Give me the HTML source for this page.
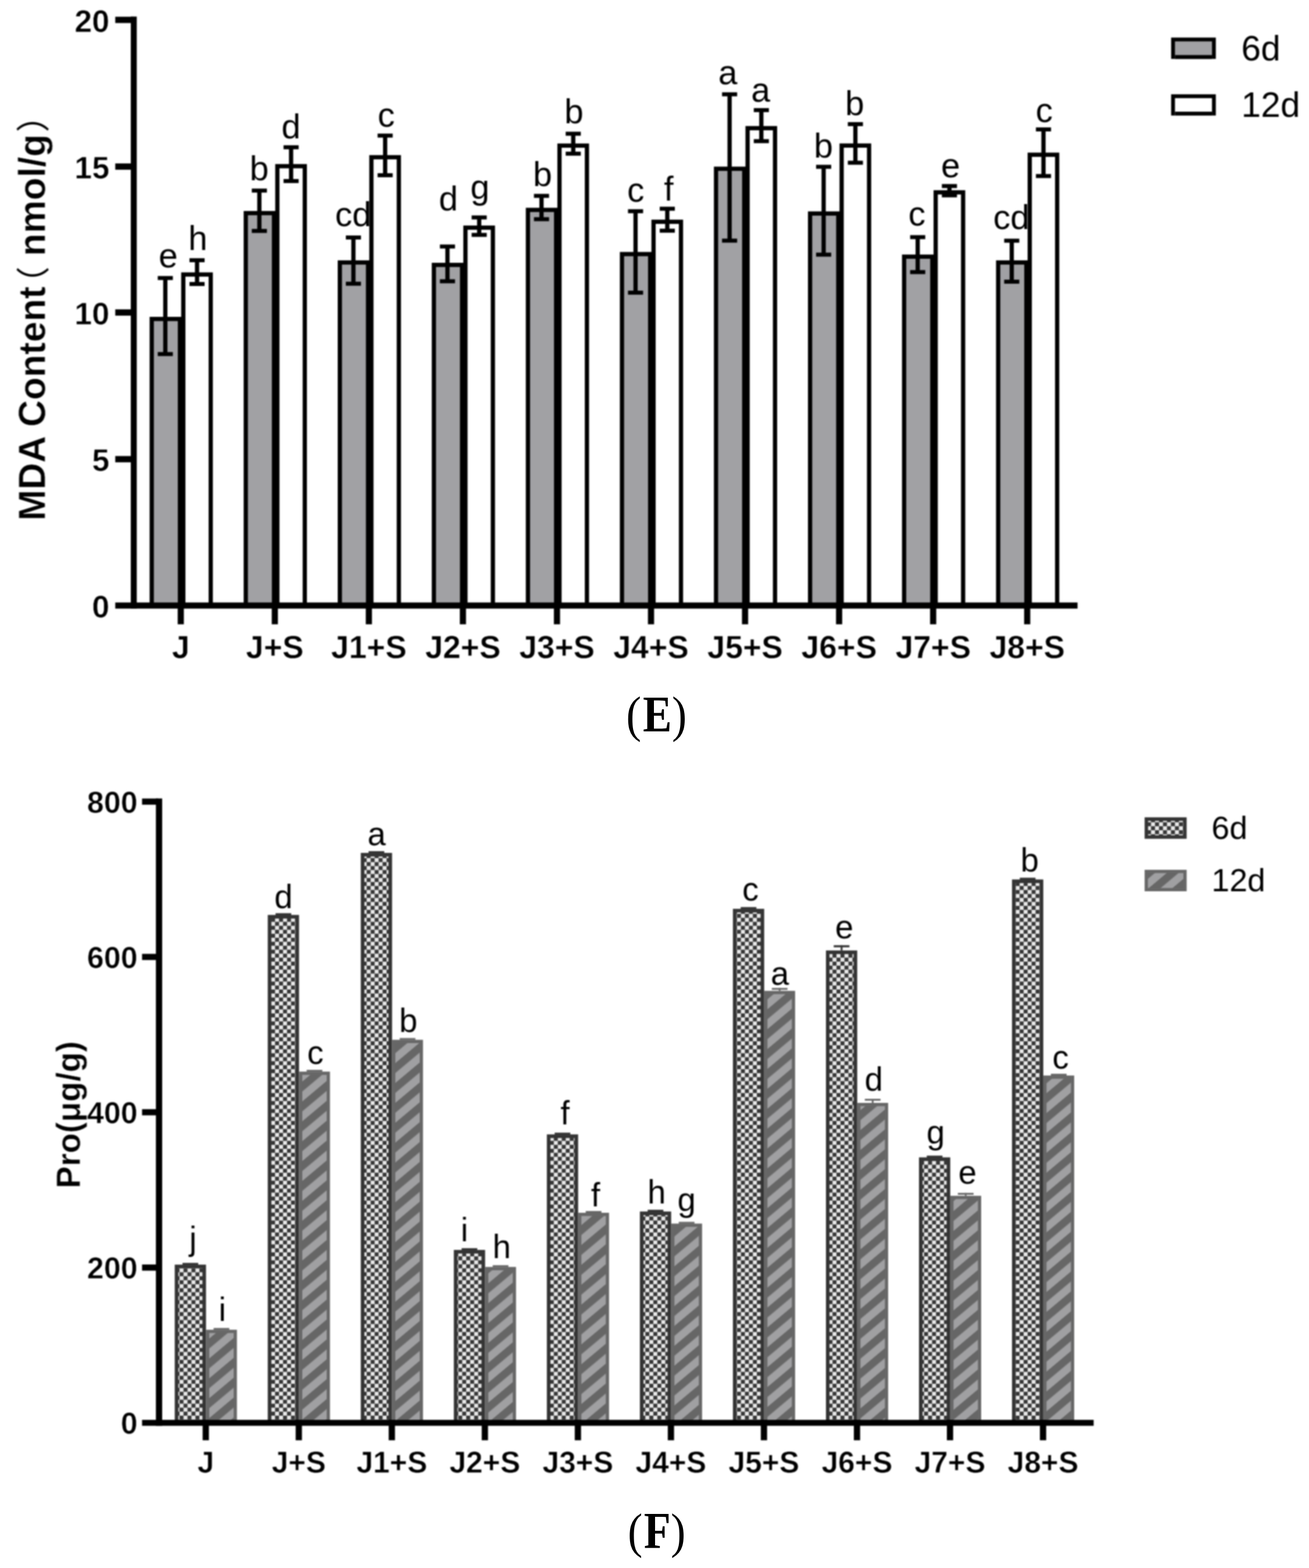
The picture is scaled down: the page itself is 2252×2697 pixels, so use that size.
<!DOCTYPE html>
<html lang="en"><head><meta charset="utf-8"><title>Figure E and F: MDA content and Pro</title>
<style>html,body{margin:0;padding:0;background:#fff;}body{width:2252px;height:2697px;}svg{display:block;}text{white-space:pre;}#chartE text[font-weight=bold],#chartF text[font-weight=bold]{stroke:#fff;stroke-width:0.6px;stroke-linejoin:round;}</style>
</head><body>
<svg width="2252" height="2697" viewBox="0 0 2252 2697">
<defs>
<pattern id="chk" patternUnits="userSpaceOnUse" width="13.7" height="13.7" x="0.6" y="3.2"><rect width="13.7" height="13.7" fill="#e9e9e9"/><rect x="0" y="0" width="6.85" height="6.85" fill="#363636"/><rect x="6.85" y="6.85" width="6.85" height="6.85" fill="#363636"/></pattern>
<pattern id="hat" patternUnits="userSpaceOnUse" width="40" height="26.199" patternTransform="rotate(-40) translate(0,4)"><rect width="40" height="26.199" fill="#a0a0a2"/><rect width="40" height="13.099" fill="#666666"/></pattern>
<filter id="soft" x="-2%" y="-2%" width="104%" height="104%" color-interpolation-filters="sRGB"><feGaussianBlur stdDeviation="0.85"/></filter>
</defs>
<rect width="2252" height="2697" fill="#fff"/>
<g filter="url(#soft)">
<g id="chartE">
<rect x="257.40" y="545.00" width="55.80" height="493.30" fill="#000"/>
<rect x="264.70" y="552.30" width="41.20" height="486.00" fill="#a1a1a4"/>
<rect x="419.20" y="362.90" width="55.80" height="675.40" fill="#000"/>
<rect x="426.50" y="370.20" width="41.20" height="668.10" fill="#a1a1a4"/>
<rect x="581.00" y="447.80" width="55.80" height="590.50" fill="#000"/>
<rect x="588.30" y="455.10" width="41.20" height="583.20" fill="#a1a1a4"/>
<rect x="742.80" y="452.00" width="55.80" height="586.30" fill="#000"/>
<rect x="750.10" y="459.30" width="41.20" height="579.00" fill="#a1a1a4"/>
<rect x="904.60" y="357.40" width="55.80" height="680.90" fill="#000"/>
<rect x="911.90" y="364.70" width="41.20" height="673.60" fill="#a1a1a4"/>
<rect x="1066.40" y="433.40" width="55.80" height="604.90" fill="#000"/>
<rect x="1073.70" y="440.70" width="41.20" height="597.60" fill="#a1a1a4"/>
<rect x="1228.20" y="286.60" width="55.80" height="751.70" fill="#000"/>
<rect x="1235.50" y="293.90" width="41.20" height="744.40" fill="#a1a1a4"/>
<rect x="1390.00" y="363.60" width="55.80" height="674.70" fill="#000"/>
<rect x="1397.30" y="370.90" width="41.20" height="667.40" fill="#a1a1a4"/>
<rect x="1551.80" y="437.80" width="55.80" height="600.50" fill="#000"/>
<rect x="1559.10" y="445.10" width="41.20" height="593.20" fill="#a1a1a4"/>
<rect x="1713.60" y="447.80" width="55.80" height="590.50" fill="#000"/>
<rect x="1720.90" y="455.10" width="41.20" height="583.20" fill="#a1a1a4"/>
<rect x="280.75" y="478.20" width="7.30" height="130.80" fill="#000"/>
<rect x="271.40" y="474.75" width="26.00" height="6.90" fill="#000"/>
<rect x="271.40" y="605.55" width="26.00" height="6.90" fill="#000"/>
<rect x="442.55" y="327.80" width="7.30" height="69.40" fill="#000"/>
<rect x="433.20" y="324.35" width="26.00" height="6.90" fill="#000"/>
<rect x="433.20" y="393.75" width="26.00" height="6.90" fill="#000"/>
<rect x="604.35" y="408.50" width="7.30" height="79.50" fill="#000"/>
<rect x="595.00" y="405.05" width="26.00" height="6.90" fill="#000"/>
<rect x="595.00" y="484.55" width="26.00" height="6.90" fill="#000"/>
<rect x="766.15" y="424.00" width="7.30" height="59.80" fill="#000"/>
<rect x="756.80" y="420.55" width="26.00" height="6.90" fill="#000"/>
<rect x="756.80" y="480.35" width="26.00" height="6.90" fill="#000"/>
<rect x="927.95" y="336.90" width="7.30" height="40.10" fill="#000"/>
<rect x="918.60" y="333.45" width="26.00" height="6.90" fill="#000"/>
<rect x="918.60" y="373.55" width="26.00" height="6.90" fill="#000"/>
<rect x="1089.75" y="363.30" width="7.30" height="140.10" fill="#000"/>
<rect x="1080.40" y="359.85" width="26.00" height="6.90" fill="#000"/>
<rect x="1080.40" y="499.95" width="26.00" height="6.90" fill="#000"/>
<rect x="1251.55" y="162.20" width="7.30" height="251.70" fill="#000"/>
<rect x="1242.20" y="158.75" width="26.00" height="6.90" fill="#000"/>
<rect x="1242.20" y="410.45" width="26.00" height="6.90" fill="#000"/>
<rect x="1413.35" y="286.90" width="7.30" height="151.10" fill="#000"/>
<rect x="1404.00" y="283.45" width="26.00" height="6.90" fill="#000"/>
<rect x="1404.00" y="434.55" width="26.00" height="6.90" fill="#000"/>
<rect x="1575.15" y="407.90" width="7.30" height="60.10" fill="#000"/>
<rect x="1565.80" y="404.45" width="26.00" height="6.90" fill="#000"/>
<rect x="1565.80" y="464.55" width="26.00" height="6.90" fill="#000"/>
<rect x="1736.95" y="414.00" width="7.30" height="70.50" fill="#000"/>
<rect x="1727.60" y="410.55" width="26.00" height="6.90" fill="#000"/>
<rect x="1727.60" y="481.05" width="26.00" height="6.90" fill="#000"/>
<text x="289.36" y="460.00" font-family='"Liberation Sans", sans-serif' font-size="59" font-weight="normal" text-anchor="middle" fill="#000">e</text>
<text x="445.92" y="310.10" font-family='"Liberation Sans", sans-serif' font-size="59" font-weight="normal" text-anchor="middle" fill="#000">b</text>
<text x="607.65" y="389.30" font-family='"Liberation Sans", sans-serif' font-size="59" font-weight="normal" text-anchor="middle" fill="#000">cd</text>
<text x="771.45" y="361.70" font-family='"Liberation Sans", sans-serif' font-size="59" font-weight="normal" text-anchor="middle" fill="#000">d</text>
<text x="933.32" y="319.50" font-family='"Liberation Sans", sans-serif' font-size="59" font-weight="normal" text-anchor="middle" fill="#000">b</text>
<text x="1093.73" y="346.50" font-family='"Liberation Sans", sans-serif' font-size="59" font-weight="normal" text-anchor="middle" fill="#000">c</text>
<text x="1252.16" y="144.60" font-family='"Liberation Sans", sans-serif' font-size="59" font-weight="normal" text-anchor="middle" fill="#000">a</text>
<text x="1416.62" y="271.00" font-family='"Liberation Sans", sans-serif' font-size="59" font-weight="normal" text-anchor="middle" fill="#000">b</text>
<text x="1577.43" y="387.90" font-family='"Liberation Sans", sans-serif' font-size="59" font-weight="normal" text-anchor="middle" fill="#000">c</text>
<text x="1739.85" y="393.60" font-family='"Liberation Sans", sans-serif' font-size="59" font-weight="normal" text-anchor="middle" fill="#000">cd</text>
<rect x="311.70" y="468.50" width="54.50" height="569.80" fill="#000"/>
<rect x="319.00" y="475.80" width="39.90" height="562.50" fill="#fff"/>
<rect x="473.50" y="282.20" width="54.50" height="756.10" fill="#000"/>
<rect x="480.80" y="289.50" width="39.90" height="748.80" fill="#fff"/>
<rect x="635.30" y="266.80" width="54.50" height="771.50" fill="#000"/>
<rect x="642.60" y="274.10" width="39.90" height="764.20" fill="#fff"/>
<rect x="797.10" y="387.90" width="54.50" height="650.40" fill="#000"/>
<rect x="804.40" y="395.20" width="39.90" height="643.10" fill="#fff"/>
<rect x="958.90" y="246.80" width="54.50" height="791.50" fill="#000"/>
<rect x="966.20" y="254.10" width="39.90" height="784.20" fill="#fff"/>
<rect x="1120.70" y="377.80" width="54.50" height="660.50" fill="#000"/>
<rect x="1128.00" y="385.10" width="39.90" height="653.20" fill="#fff"/>
<rect x="1282.50" y="216.80" width="54.50" height="821.50" fill="#000"/>
<rect x="1289.80" y="224.10" width="39.90" height="814.20" fill="#fff"/>
<rect x="1444.30" y="246.70" width="54.50" height="791.60" fill="#000"/>
<rect x="1451.60" y="254.00" width="39.90" height="784.30" fill="#fff"/>
<rect x="1606.10" y="327.20" width="54.50" height="711.10" fill="#000"/>
<rect x="1613.40" y="334.50" width="39.90" height="703.80" fill="#fff"/>
<rect x="1767.90" y="262.50" width="54.50" height="775.80" fill="#000"/>
<rect x="1775.20" y="269.80" width="39.90" height="768.50" fill="#fff"/>
<rect x="335.35" y="447.60" width="7.30" height="40.90" fill="#000"/>
<rect x="326.00" y="444.15" width="26.00" height="6.90" fill="#000"/>
<rect x="326.00" y="485.05" width="26.00" height="6.90" fill="#000"/>
<rect x="497.15" y="253.30" width="7.30" height="58.10" fill="#000"/>
<rect x="487.80" y="249.85" width="26.00" height="6.90" fill="#000"/>
<rect x="487.80" y="307.95" width="26.00" height="6.90" fill="#000"/>
<rect x="658.95" y="233.20" width="7.30" height="68.20" fill="#000"/>
<rect x="649.60" y="229.75" width="26.00" height="6.90" fill="#000"/>
<rect x="649.60" y="297.95" width="26.00" height="6.90" fill="#000"/>
<rect x="820.75" y="374.00" width="7.30" height="30.00" fill="#000"/>
<rect x="811.40" y="370.55" width="26.00" height="6.90" fill="#000"/>
<rect x="811.40" y="400.55" width="26.00" height="6.90" fill="#000"/>
<rect x="982.55" y="230.00" width="7.30" height="34.30" fill="#000"/>
<rect x="973.20" y="226.55" width="26.00" height="6.90" fill="#000"/>
<rect x="973.20" y="260.85" width="26.00" height="6.90" fill="#000"/>
<rect x="1144.35" y="359.00" width="7.30" height="37.80" fill="#000"/>
<rect x="1135.00" y="355.55" width="26.00" height="6.90" fill="#000"/>
<rect x="1135.00" y="393.35" width="26.00" height="6.90" fill="#000"/>
<rect x="1306.15" y="189.40" width="7.30" height="53.40" fill="#000"/>
<rect x="1296.80" y="185.95" width="26.00" height="6.90" fill="#000"/>
<rect x="1296.80" y="239.35" width="26.00" height="6.90" fill="#000"/>
<rect x="1467.95" y="213.50" width="7.30" height="66.40" fill="#000"/>
<rect x="1458.60" y="210.05" width="26.00" height="6.90" fill="#000"/>
<rect x="1458.60" y="276.45" width="26.00" height="6.90" fill="#000"/>
<rect x="1629.75" y="320.00" width="7.30" height="16.00" fill="#000"/>
<rect x="1620.40" y="316.55" width="26.00" height="6.90" fill="#000"/>
<rect x="1620.40" y="332.55" width="26.00" height="6.90" fill="#000"/>
<rect x="1791.55" y="222.60" width="7.30" height="80.20" fill="#000"/>
<rect x="1782.20" y="219.15" width="26.00" height="6.90" fill="#000"/>
<rect x="1782.20" y="299.35" width="26.00" height="6.90" fill="#000"/>
<text x="340.48" y="430.00" font-family='"Liberation Sans", sans-serif' font-size="59" font-weight="normal" text-anchor="middle" fill="#000">h</text>
<text x="500.65" y="238.00" font-family='"Liberation Sans", sans-serif' font-size="59" font-weight="normal" text-anchor="middle" fill="#000">d</text>
<text x="664.53" y="218.30" font-family='"Liberation Sans", sans-serif' font-size="59" font-weight="normal" text-anchor="middle" fill="#000">c</text>
<text x="825.65" y="341.50" font-family='"Liberation Sans", sans-serif' font-size="59" font-weight="normal" text-anchor="middle" fill="#000">g</text>
<text x="987.32" y="212.00" font-family='"Liberation Sans", sans-serif' font-size="59" font-weight="normal" text-anchor="middle" fill="#000">b</text>
<text x="1150.36" y="345.00" font-family='"Liberation Sans", sans-serif' font-size="59" font-weight="normal" text-anchor="middle" fill="#000">f</text>
<text x="1308.56" y="174.90" font-family='"Liberation Sans", sans-serif' font-size="59" font-weight="normal" text-anchor="middle" fill="#000">a</text>
<text x="1470.42" y="197.70" font-family='"Liberation Sans", sans-serif' font-size="59" font-weight="normal" text-anchor="middle" fill="#000">b</text>
<text x="1635.36" y="305.20" font-family='"Liberation Sans", sans-serif' font-size="59" font-weight="normal" text-anchor="middle" fill="#000">e</text>
<text x="1796.53" y="210.30" font-family='"Liberation Sans", sans-serif' font-size="59" font-weight="normal" text-anchor="middle" fill="#000">c</text>
<rect x="225.00" y="28.50" width="10.30" height="1018.30" fill="#000"/>
<rect x="198.30" y="1036.30" width="1655.50" height="10.50" fill="#000"/>
<rect x="198.30" y="28.80" width="31.70" height="10.80" fill="#000"/>
<text x="188.40" y="54.50" font-family='"Liberation Sans", sans-serif' font-size="54" font-weight="bold" text-anchor="end" fill="#000">20</text>
<rect x="198.30" y="281.10" width="31.70" height="10.80" fill="#000"/>
<text x="188.40" y="306.80" font-family='"Liberation Sans", sans-serif' font-size="54" font-weight="bold" text-anchor="end" fill="#000">15</text>
<rect x="198.30" y="532.10" width="31.70" height="10.80" fill="#000"/>
<text x="188.40" y="557.80" font-family='"Liberation Sans", sans-serif' font-size="54" font-weight="bold" text-anchor="end" fill="#000">10</text>
<rect x="198.30" y="784.40" width="31.70" height="10.80" fill="#000"/>
<text x="188.40" y="810.10" font-family='"Liberation Sans", sans-serif' font-size="54" font-weight="bold" text-anchor="end" fill="#000">5</text>
<text x="188.40" y="1061.80" font-family='"Liberation Sans", sans-serif' font-size="54" font-weight="bold" text-anchor="end" fill="#000">0</text>
<rect x="305.70" y="1036.30" width="10.60" height="37.50" fill="#000"/>
<text x="311.00" y="1132.00" font-family='"Liberation Sans", sans-serif' font-size="55" font-weight="bold" text-anchor="middle" fill="#000">J</text>
<rect x="467.50" y="1036.30" width="10.60" height="37.50" fill="#000"/>
<text x="472.80" y="1132.00" font-family='"Liberation Sans", sans-serif' font-size="55" font-weight="bold" text-anchor="middle" fill="#000">J+S</text>
<rect x="629.30" y="1036.30" width="10.60" height="37.50" fill="#000"/>
<text x="634.60" y="1132.00" font-family='"Liberation Sans", sans-serif' font-size="55" font-weight="bold" text-anchor="middle" fill="#000">J1+S</text>
<rect x="791.10" y="1036.30" width="10.60" height="37.50" fill="#000"/>
<text x="796.40" y="1132.00" font-family='"Liberation Sans", sans-serif' font-size="55" font-weight="bold" text-anchor="middle" fill="#000">J2+S</text>
<rect x="952.90" y="1036.30" width="10.60" height="37.50" fill="#000"/>
<text x="958.20" y="1132.00" font-family='"Liberation Sans", sans-serif' font-size="55" font-weight="bold" text-anchor="middle" fill="#000">J3+S</text>
<rect x="1114.70" y="1036.30" width="10.60" height="37.50" fill="#000"/>
<text x="1120.00" y="1132.00" font-family='"Liberation Sans", sans-serif' font-size="55" font-weight="bold" text-anchor="middle" fill="#000">J4+S</text>
<rect x="1276.50" y="1036.30" width="10.60" height="37.50" fill="#000"/>
<text x="1281.80" y="1132.00" font-family='"Liberation Sans", sans-serif' font-size="55" font-weight="bold" text-anchor="middle" fill="#000">J5+S</text>
<rect x="1438.30" y="1036.30" width="10.60" height="37.50" fill="#000"/>
<text x="1443.60" y="1132.00" font-family='"Liberation Sans", sans-serif' font-size="55" font-weight="bold" text-anchor="middle" fill="#000">J6+S</text>
<rect x="1600.10" y="1036.30" width="10.60" height="37.50" fill="#000"/>
<text x="1605.40" y="1132.00" font-family='"Liberation Sans", sans-serif' font-size="55" font-weight="bold" text-anchor="middle" fill="#000">J7+S</text>
<rect x="1761.90" y="1036.30" width="10.60" height="37.50" fill="#000"/>
<text x="1767.20" y="1132.00" font-family='"Liberation Sans", sans-serif' font-size="55" font-weight="bold" text-anchor="middle" fill="#000">J8+S</text>
<g transform="translate(77.5,0) rotate(-90)">
<text x="-895.50" y="0.00" font-family='"Liberation Sans", sans-serif' font-size="64" font-weight="bold" text-anchor="start" fill="#000">MDA Content</text>
<text x="-440.40" y="0.00" font-family='"Liberation Sans", sans-serif' font-size="64" font-weight="bold" text-anchor="start" fill="#000">nmol/g</text>
<text x="-487.30" y="1.00" font-family='"Liberation Sans", "Noto Sans CJK SC", sans-serif' font-size="58" font-weight="normal" text-anchor="middle" fill="#000">（</text>
<text x="-198.60" y="1.00" font-family='"Liberation Sans", "Noto Sans CJK SC", sans-serif' font-size="58" font-weight="normal" text-anchor="middle" fill="#000">）</text>
</g>
<rect x="2014.80" y="64.60" width="76.90" height="36.70" fill="#000"/>
<rect x="2021.40" y="71.20" width="63.70" height="30.10" fill="#a1a1a4"/>
<rect x="2021.40" y="94.70" width="63.70" height="6.60" fill="#000"/>
<rect x="2014.80" y="162.20" width="76.90" height="36.50" fill="#000"/>
<rect x="2021.40" y="168.80" width="63.70" height="29.90" fill="#fff"/>
<rect x="2021.40" y="192.10" width="63.70" height="6.60" fill="#000"/>
<text x="2135.60" y="104.00" font-family='"Liberation Sans", sans-serif' font-size="60.5" font-weight="normal" text-anchor="start" fill="#000">6d</text>
<text x="2135.60" y="201.30" font-family='"Liberation Sans", sans-serif' font-size="60.5" font-weight="normal" text-anchor="start" fill="#000">12d</text>
</g>
<g id="chartF">
<rect x="300.60" y="2175.20" width="53.80" height="269.00" fill="#343434"/>
<rect x="306.80" y="2181.40" width="41.40" height="262.80" fill="url(#chk)"/>
<rect x="314.00" y="2172.20" width="27.00" height="3.60" fill="#343434"/>
<rect x="460.65" y="1573.70" width="53.80" height="870.50" fill="#343434"/>
<rect x="466.85" y="1579.90" width="41.40" height="864.30" fill="url(#chk)"/>
<rect x="474.05" y="1570.70" width="27.00" height="3.60" fill="#343434"/>
<rect x="620.70" y="1467.00" width="53.80" height="977.20" fill="#343434"/>
<rect x="626.90" y="1473.20" width="41.40" height="971.00" fill="url(#chk)"/>
<rect x="634.10" y="1464.00" width="27.00" height="3.60" fill="#343434"/>
<rect x="780.75" y="2149.90" width="53.80" height="294.30" fill="#343434"/>
<rect x="786.95" y="2156.10" width="41.40" height="288.10" fill="url(#chk)"/>
<rect x="794.15" y="2146.90" width="27.00" height="3.60" fill="#343434"/>
<rect x="940.80" y="1951.20" width="53.80" height="493.00" fill="#343434"/>
<rect x="947.00" y="1957.40" width="41.40" height="486.80" fill="url(#chk)"/>
<rect x="954.20" y="1948.20" width="27.00" height="3.60" fill="#343434"/>
<rect x="1100.85" y="2083.80" width="53.80" height="360.40" fill="#343434"/>
<rect x="1107.05" y="2090.00" width="41.40" height="354.20" fill="url(#chk)"/>
<rect x="1114.25" y="2080.80" width="27.00" height="3.60" fill="#343434"/>
<rect x="1260.90" y="1563.20" width="53.80" height="881.00" fill="#343434"/>
<rect x="1267.10" y="1569.40" width="41.40" height="874.80" fill="url(#chk)"/>
<rect x="1274.30" y="1560.20" width="27.00" height="3.60" fill="#343434"/>
<rect x="1420.95" y="1634.80" width="53.80" height="809.40" fill="#343434"/>
<rect x="1427.15" y="1641.00" width="41.40" height="803.20" fill="url(#chk)"/>
<rect x="1434.35" y="1625.80" width="27.00" height="3.60" fill="#343434"/>
<rect x="1446.25" y="1625.80" width="3.20" height="9.00" fill="#343434"/>
<rect x="1581.00" y="1990.70" width="53.80" height="453.50" fill="#343434"/>
<rect x="1587.20" y="1996.90" width="41.40" height="447.30" fill="url(#chk)"/>
<rect x="1594.40" y="1987.70" width="27.00" height="3.60" fill="#343434"/>
<rect x="1741.05" y="1512.70" width="53.80" height="931.50" fill="#343434"/>
<rect x="1747.25" y="1518.90" width="41.40" height="925.30" fill="url(#chk)"/>
<rect x="1754.45" y="1509.70" width="27.00" height="3.60" fill="#343434"/>
<rect x="354.40" y="2287.20" width="53.20" height="157.00" fill="#676767"/>
<rect x="360.00" y="2292.80" width="42.00" height="151.40" fill="url(#hat)"/>
<rect x="367.50" y="2284.20" width="27.00" height="3.20" fill="#676767"/>
<rect x="514.45" y="1843.20" width="53.20" height="601.00" fill="#676767"/>
<rect x="520.05" y="1848.80" width="42.00" height="595.40" fill="url(#hat)"/>
<rect x="527.55" y="1840.20" width="27.00" height="3.20" fill="#676767"/>
<rect x="674.50" y="1788.50" width="53.20" height="655.70" fill="#676767"/>
<rect x="680.10" y="1794.10" width="42.00" height="650.10" fill="url(#hat)"/>
<rect x="687.60" y="1785.50" width="27.00" height="3.20" fill="#676767"/>
<rect x="834.55" y="2179.20" width="53.20" height="265.00" fill="#676767"/>
<rect x="840.15" y="2184.80" width="42.00" height="259.40" fill="url(#hat)"/>
<rect x="847.65" y="2176.20" width="27.00" height="3.20" fill="#676767"/>
<rect x="994.60" y="2086.00" width="53.20" height="358.20" fill="#676767"/>
<rect x="1000.20" y="2091.60" width="42.00" height="352.60" fill="url(#hat)"/>
<rect x="1007.70" y="2083.00" width="27.00" height="3.20" fill="#676767"/>
<rect x="1154.65" y="2104.60" width="53.20" height="339.60" fill="#676767"/>
<rect x="1160.25" y="2110.20" width="42.00" height="334.00" fill="url(#hat)"/>
<rect x="1167.75" y="2101.60" width="27.00" height="3.20" fill="#676767"/>
<rect x="1314.70" y="1704.30" width="53.20" height="739.90" fill="#676767"/>
<rect x="1320.30" y="1709.90" width="42.00" height="734.30" fill="url(#hat)"/>
<rect x="1327.80" y="1699.30" width="27.00" height="3.20" fill="#676767"/>
<rect x="1339.80" y="1699.30" width="3.00" height="5.00" fill="#676767"/>
<rect x="1474.75" y="1897.00" width="53.20" height="547.20" fill="#676767"/>
<rect x="1480.35" y="1902.60" width="42.00" height="541.60" fill="url(#hat)"/>
<rect x="1487.85" y="1890.00" width="27.00" height="3.20" fill="#676767"/>
<rect x="1499.85" y="1890.00" width="3.00" height="7.00" fill="#676767"/>
<rect x="1634.80" y="2056.80" width="53.20" height="387.40" fill="#676767"/>
<rect x="1640.40" y="2062.40" width="42.00" height="381.80" fill="url(#hat)"/>
<rect x="1647.90" y="2051.80" width="27.00" height="3.20" fill="#676767"/>
<rect x="1659.90" y="2051.80" width="3.00" height="5.00" fill="#676767"/>
<rect x="1794.85" y="1849.90" width="53.20" height="594.30" fill="#676767"/>
<rect x="1800.45" y="1855.50" width="42.00" height="588.70" fill="url(#hat)"/>
<rect x="1807.95" y="1846.90" width="27.00" height="3.20" fill="#676767"/>
<text x="332.07" y="2150.00" font-family='"Liberation Sans", sans-serif' font-size="56.5" font-weight="normal" text-anchor="middle" fill="#000">j</text>
<text x="382.50" y="2272.10" font-family='"Liberation Sans", sans-serif' font-size="56.5" font-weight="normal" text-anchor="middle" fill="#000">i</text>
<text x="487.62" y="1561.90" font-family='"Liberation Sans", sans-serif' font-size="56.5" font-weight="normal" text-anchor="middle" fill="#000">d</text>
<text x="542.55" y="1830.40" font-family='"Liberation Sans", sans-serif' font-size="56.5" font-weight="normal" text-anchor="middle" fill="#000">c</text>
<text x="648.01" y="1453.50" font-family='"Liberation Sans", sans-serif' font-size="56.5" font-weight="normal" text-anchor="middle" fill="#000">a</text>
<text x="702.55" y="1774.80" font-family='"Liberation Sans", sans-serif' font-size="56.5" font-weight="normal" text-anchor="middle" fill="#000">b</text>
<text x="799.00" y="2134.50" font-family='"Liberation Sans", sans-serif' font-size="56.5" font-weight="normal" text-anchor="middle" fill="#000">i</text>
<text x="863.19" y="2164.10" font-family='"Liberation Sans", sans-serif' font-size="56.5" font-weight="normal" text-anchor="middle" fill="#000">h</text>
<text x="972.18" y="1934.10" font-family='"Liberation Sans", sans-serif' font-size="56.5" font-weight="normal" text-anchor="middle" fill="#000">f</text>
<text x="1024.58" y="2074.60" font-family='"Liberation Sans", sans-serif' font-size="56.5" font-weight="normal" text-anchor="middle" fill="#000">f</text>
<text x="1129.79" y="2069.50" font-family='"Liberation Sans", sans-serif' font-size="56.5" font-weight="normal" text-anchor="middle" fill="#000">h</text>
<text x="1181.12" y="2082.50" font-family='"Liberation Sans", sans-serif' font-size="56.5" font-weight="normal" text-anchor="middle" fill="#000">g</text>
<text x="1291.15" y="1549.30" font-family='"Liberation Sans", sans-serif' font-size="56.5" font-weight="normal" text-anchor="middle" fill="#000">c</text>
<text x="1341.81" y="1694.00" font-family='"Liberation Sans", sans-serif' font-size="56.5" font-weight="normal" text-anchor="middle" fill="#000">a</text>
<text x="1452.46" y="1614.40" font-family='"Liberation Sans", sans-serif' font-size="56.5" font-weight="normal" text-anchor="middle" fill="#000">e</text>
<text x="1503.12" y="1876.20" font-family='"Liberation Sans", sans-serif' font-size="56.5" font-weight="normal" text-anchor="middle" fill="#000">d</text>
<text x="1609.62" y="1966.50" font-family='"Liberation Sans", sans-serif' font-size="56.5" font-weight="normal" text-anchor="middle" fill="#000">g</text>
<text x="1664.46" y="2036.30" font-family='"Liberation Sans", sans-serif' font-size="56.5" font-weight="normal" text-anchor="middle" fill="#000">e</text>
<text x="1771.35" y="1499.30" font-family='"Liberation Sans", sans-serif' font-size="56.5" font-weight="normal" text-anchor="middle" fill="#000">b</text>
<text x="1824.55" y="1837.70" font-family='"Liberation Sans", sans-serif' font-size="56.5" font-weight="normal" text-anchor="middle" fill="#000">c</text>
<rect x="268.20" y="1373.40" width="10.80" height="1079.00" fill="#000"/>
<rect x="244.40" y="2442.20" width="1637.10" height="10.20" fill="#000"/>
<rect x="244.40" y="1373.50" width="27.60" height="10.60" fill="#000"/>
<text x="236.60" y="1397.80" font-family='"Liberation Sans", sans-serif' font-size="52" font-weight="bold" text-anchor="end" fill="#000">800</text>
<rect x="244.40" y="1640.65" width="27.60" height="10.60" fill="#000"/>
<text x="236.60" y="1664.95" font-family='"Liberation Sans", sans-serif' font-size="52" font-weight="bold" text-anchor="end" fill="#000">600</text>
<rect x="244.40" y="1907.80" width="27.60" height="10.60" fill="#000"/>
<text x="236.60" y="1932.10" font-family='"Liberation Sans", sans-serif' font-size="52" font-weight="bold" text-anchor="end" fill="#000">400</text>
<rect x="244.40" y="2174.95" width="27.60" height="10.60" fill="#000"/>
<text x="236.60" y="2199.25" font-family='"Liberation Sans", sans-serif' font-size="52" font-weight="bold" text-anchor="end" fill="#000">200</text>
<text x="236.60" y="2466.40" font-family='"Liberation Sans", sans-serif' font-size="52" font-weight="bold" text-anchor="end" fill="#000">0</text>
<rect x="348.60" y="2442.20" width="10.80" height="35.10" fill="#000"/>
<text x="354.00" y="2532.60" font-family='"Liberation Sans", sans-serif' font-size="51.6" font-weight="bold" text-anchor="middle" fill="#000">J</text>
<rect x="508.65" y="2442.20" width="10.80" height="35.10" fill="#000"/>
<text x="514.05" y="2532.60" font-family='"Liberation Sans", sans-serif' font-size="51.6" font-weight="bold" text-anchor="middle" fill="#000">J+S</text>
<rect x="668.70" y="2442.20" width="10.80" height="35.10" fill="#000"/>
<text x="674.10" y="2532.60" font-family='"Liberation Sans", sans-serif' font-size="51.6" font-weight="bold" text-anchor="middle" fill="#000">J1+S</text>
<rect x="828.75" y="2442.20" width="10.80" height="35.10" fill="#000"/>
<text x="834.15" y="2532.60" font-family='"Liberation Sans", sans-serif' font-size="51.6" font-weight="bold" text-anchor="middle" fill="#000">J2+S</text>
<rect x="988.80" y="2442.20" width="10.80" height="35.10" fill="#000"/>
<text x="994.20" y="2532.60" font-family='"Liberation Sans", sans-serif' font-size="51.6" font-weight="bold" text-anchor="middle" fill="#000">J3+S</text>
<rect x="1148.85" y="2442.20" width="10.80" height="35.10" fill="#000"/>
<text x="1154.25" y="2532.60" font-family='"Liberation Sans", sans-serif' font-size="51.6" font-weight="bold" text-anchor="middle" fill="#000">J4+S</text>
<rect x="1308.90" y="2442.20" width="10.80" height="35.10" fill="#000"/>
<text x="1314.30" y="2532.60" font-family='"Liberation Sans", sans-serif' font-size="51.6" font-weight="bold" text-anchor="middle" fill="#000">J5+S</text>
<rect x="1468.95" y="2442.20" width="10.80" height="35.10" fill="#000"/>
<text x="1474.35" y="2532.60" font-family='"Liberation Sans", sans-serif' font-size="51.6" font-weight="bold" text-anchor="middle" fill="#000">J6+S</text>
<rect x="1629.00" y="2442.20" width="10.80" height="35.10" fill="#000"/>
<text x="1634.40" y="2532.60" font-family='"Liberation Sans", sans-serif' font-size="51.6" font-weight="bold" text-anchor="middle" fill="#000">J7+S</text>
<rect x="1789.05" y="2442.20" width="10.80" height="35.10" fill="#000"/>
<text x="1794.45" y="2532.60" font-family='"Liberation Sans", sans-serif' font-size="51.6" font-weight="bold" text-anchor="middle" fill="#000">J8+S</text>
<g transform="translate(137.6,0) rotate(-90)">
<text x="-2044.00" y="0.00" font-family='"Liberation Sans", sans-serif' font-size="57" font-weight="bold" text-anchor="start" fill="#000">Pro(μg/g)</text>
</g>
<rect x="1969.20" y="1405.80" width="72.30" height="36.90" fill="#343434"/>
<rect x="1975.20" y="1411.80" width="60.30" height="24.90" fill="url(#chk)"/>
<rect x="1969.20" y="1496.10" width="72.30" height="36.90" fill="#676767"/>
<rect x="1974.80" y="1501.70" width="61.10" height="25.70" fill="url(#hat)"/>
<text x="2084.30" y="1443.00" font-family='"Liberation Sans", sans-serif' font-size="55.5" font-weight="normal" text-anchor="start" fill="#000">6d</text>
<text x="2084.30" y="1533.30" font-family='"Liberation Sans", sans-serif' font-size="55.5" font-weight="normal" text-anchor="start" fill="#000">12d</text>
</g>
</g>
<text transform="translate(1077.28,1258.43) scale(0.9072,1)" font-family='"Liberation Serif", serif' font-size="85.78" fill="#000">(</text>
<text transform="translate(1156.06,1258.43) scale(0.8891,1)" font-family='"Liberation Serif", serif' font-size="85.78" fill="#000">)</text>
<text transform="translate(1106.03,1257.80) scale(0.8442,1)" font-family='"Liberation Serif", serif' font-size="88.40" font-weight="bold" fill="#000">E</text>
<text transform="translate(1079.94,2662.42) scale(0.8937,1)" font-family='"Liberation Serif", serif' font-size="85.34" fill="#000">(</text>
<text transform="translate(1154.06,2662.42) scale(0.8937,1)" font-family='"Liberation Serif", serif' font-size="85.34" fill="#000">)</text>
<text transform="translate(1107.72,2662.20) scale(0.8551,1)" font-family='"Liberation Serif", serif' font-size="88.24" font-weight="bold" fill="#000">F</text>
</svg>
</body></html>
